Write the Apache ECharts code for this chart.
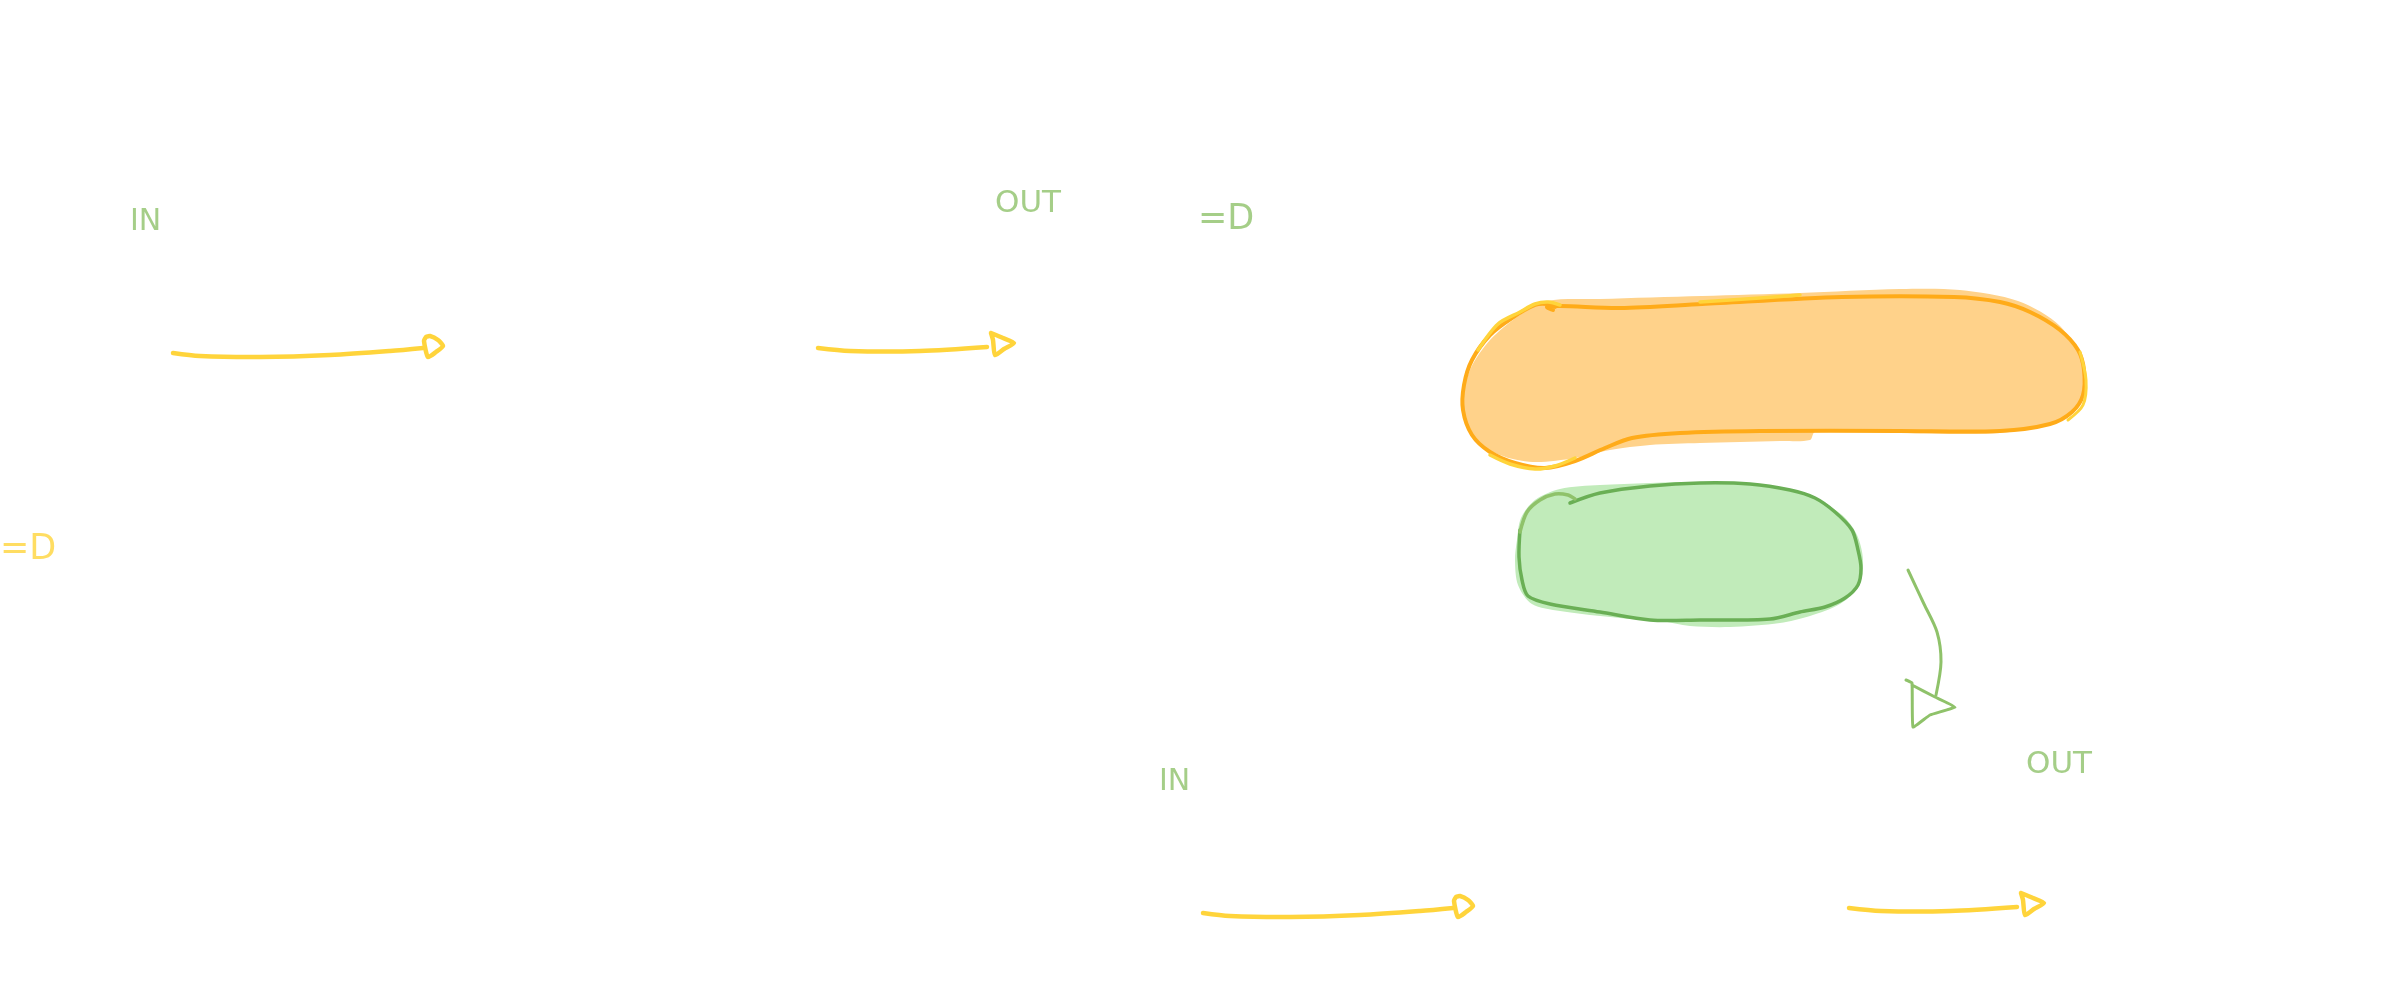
<!DOCTYPE html>
<html>
<head>
<meta charset="utf-8">
<script src="https://cdn.jsdelivr.net/npm/echarts@6/dist/echarts.min.js"></script>
<style>
html,body{margin:0;padding:0;background:#ffffff;}
#chart{width:2388px;height:1000px;}
</style>
</head>
<body>
<div id="chart"></div>
<script>
// ---- labels (text, x, y) in sketch units ----
const labelTexts = ['IN', 'OUT', '=D', '=D', 'IN', 'OUT'];
const labelPoints = [[130, 222], [995, 204], [1198, 220], [0, 550], [1159, 782], [2026, 765]];

// ---- yellow arrows ----
const arrow1Shaft = [[173,353],[200,356],[260,357],[330,355],[390,351],[423,348]];
const arrow1Head = [[426,337],[424,341],[428,357],[436,352],[443,346],[438,340],[430,336],[426,337]];
const arrow2Shaft = [[818,348],[850,351],[920,351],[987,347]];
const arrow2Head = [[991,333],[993,340],[995,355],[1004,349],[1014,343],[1003,338],[991,333]];
const arrow3Shaft = [[1203,913],[1230,916],[1290,917],[1360,915],[1420,911],[1453,908]];
const arrow3Head = [[1456,897],[1454,901],[1458,917],[1466,912],[1473,906],[1468,900],[1460,896],[1456,897]];
const arrow4Shaft = [[1849,908],[1881,911],[1950,911],[2017,907]];
const arrow4Head = [[2021,893],[2023,900],[2025,915],[2034,909],[2044,903],[2033,898],[2021,893]];

// ---- green curved arrow ----
const greenArrowShaft = [[1908,570],[1924,604],[1937,632],[1941,662],[1936,695]];
const greenArrowHead = [[1906,680],[1912,683],[1913,727],[1930,715],[1955,707],[1935,697],[1912,685]];

// ---- orange blob ----
const orangeFill = [[1462,407],[1470,370],[1490,340],[1520,315],[1547,301],[1600,299],[1702,296],[1800,293],[1900,289],[1960,290],[2018,301],[2060,326],[2084,367],[2083,397],[2062,420],[2000,433],[1900,433],[1815,432],[1810,440],[1780,441],[1700,443],[1650,445],[1610,450],[1575,458],[1533,462],[1500,455],[1472,437]];
const orangeOutline = [[1553,310],[1547,307],[1560,306],[1620,308],[1702,304],[1842,297],[1954,297],[2000,302],[2030,312],[2060,330],[2078,350],[2084,370],[2083,395],[2072,412],[2050,424],[2000,431],[1900,431],[1760,431],[1680,433],[1632,438],[1605,448],[1575,461],[1545,468],[1515,463],[1490,452],[1472,435],[1463,410],[1464,385],[1472,360],[1490,335],[1512,318],[1535,305],[1547,304],[1555,307]];
const orangeAccent1 = [[1478,350],[1498,324],[1520,312],[1535,304],[1548,302],[1560,305]];
const orangeAccent2 = [[1490,455],[1510,464],[1535,469],[1555,466],[1575,458]];
const orangeAccent3 = [[1700,302],[1760,298],[1800,295]];
const orangeAccent4 = [[2080,352],[2086,380],[2083,405],[2068,420]];

// ---- green blob ----
const greenFill = [[1517,540],[1521,518],[1535,500],[1560,489],[1600,485],[1700,482],[1760,485],[1812,497],[1842,515],[1857,535],[1863,560],[1859,586],[1840,604],[1810,616],[1780,623],[1730,627],[1690,626],[1660,621],[1620,618],[1560,611],[1532,604],[1518,585],[1515,560]];
const greenOutline = [[1570,503],[1600,493],[1650,486],[1700,483],[1750,484],[1790,490],[1815,498],[1835,512],[1852,530],[1858,550],[1861,568],[1858,585],[1845,598],[1825,607],[1800,612],[1770,619],[1700,620],[1650,620],[1600,612],[1550,604],[1528,596],[1522,580],[1519,557],[1520,530]];
const greenOutlineArc = [[1520,532],[1527,512],[1540,500],[1555,494],[1568,495],[1575,499]];

const YELLOW = '#ffd43b';
const GREEN_TEXT = '#8fc26a';
const ORANGE_FILL = '#ffd28a';
const ORANGE_STROKE = '#ffab19';
const GREEN_FILL = '#c1ebba';
const GREEN_STROKE = '#6aaf55';

function stroke(data, color, width, smooth) {
  return {
    type: 'custom', data: data, silent: true, z: 3, animation: false,
    renderItem: function (params, api) {
      if (params.dataIndex !== 0) return null;
      return {
        type: 'polyline',
        shape: { points: data.map(function (p) { return api.coord(p); }), smooth: smooth === undefined ? 0.3 : smooth },
        style: { stroke: color, lineWidth: width, fill: null, lineCap: 'round', lineJoin: 'round' }
      };
    }
  };
}
function fill(data, color) {
  return {
    type: 'custom', data: data, silent: true, z: 1, animation: false,
    renderItem: function (params, api) {
      if (params.dataIndex !== 0) return null;
      return {
        type: 'polygon',
        shape: { points: data.map(function (p) { return api.coord(p); }), smooth: 0.3 },
        style: { fill: color }
      };
    }
  };
}

const labelStyles = [
  { color: GREEN_TEXT, size: 30 },
  { color: GREEN_TEXT, size: 31 },
  { color: GREEN_TEXT, size: 35 },
  { color: YELLOW, size: 35 },
  { color: GREEN_TEXT, size: 30 },
  { color: GREEN_TEXT, size: 31 }
];

const chart = echarts.init(document.getElementById('chart'));
chart.setOption({
  backgroundColor: '#ffffff',
  animation: false,
  grid: { left: 0, right: 0, top: 0, bottom: 0, containLabel: false },
  xAxis: { type: 'value', min: 0, max: 2388, show: false },
  yAxis: { type: 'value', min: 0, max: 1000, inverse: true, show: false },
  series: [
    fill(orangeFill, ORANGE_FILL),
    fill(greenFill, GREEN_FILL),
    stroke(orangeOutline, ORANGE_STROKE, 4),
    stroke(orangeAccent1, YELLOW, 3.5),
    stroke(orangeAccent2, YELLOW, 3.5),
    stroke(orangeAccent3, YELLOW, 3.5),
    stroke(orangeAccent4, YELLOW, 3),
    stroke(greenOutline, GREEN_STROKE, 3.5),
    stroke(greenOutlineArc, GREEN_TEXT, 3.5),
    stroke(arrow1Shaft, YELLOW, 4.5),
    stroke(arrow1Head, YELLOW, 4.5, 0.2),
    stroke(arrow2Shaft, YELLOW, 4.5),
    stroke(arrow2Head, YELLOW, 4.5, 0.2),
    stroke(arrow3Shaft, YELLOW, 4.5),
    stroke(arrow3Head, YELLOW, 4.5, 0.2),
    stroke(arrow4Shaft, YELLOW, 4.5),
    stroke(arrow4Head, YELLOW, 4.5, 0.2),
    stroke(greenArrowShaft, GREEN_TEXT, 3),
    stroke(greenArrowHead, GREEN_TEXT, 3, 0.1),
    {
      type: 'scatter', symbolSize: 0, silent: true, z: 5, animation: false, clip: false,
      data: labelPoints.map(function (p, i) {
        const st = labelStyles[i];
        return {
          value: p, name: labelTexts[i],
          label: {
            show: true, position: 'right', distance: 0,
            formatter: labelTexts[i],
            color: st.color, fontSize: st.size,
            fontFamily: 'DejaVu Sans', fontWeight: 'normal'
          }
        };
      })
    }
  ]
});
</script>
</body>
</html>
